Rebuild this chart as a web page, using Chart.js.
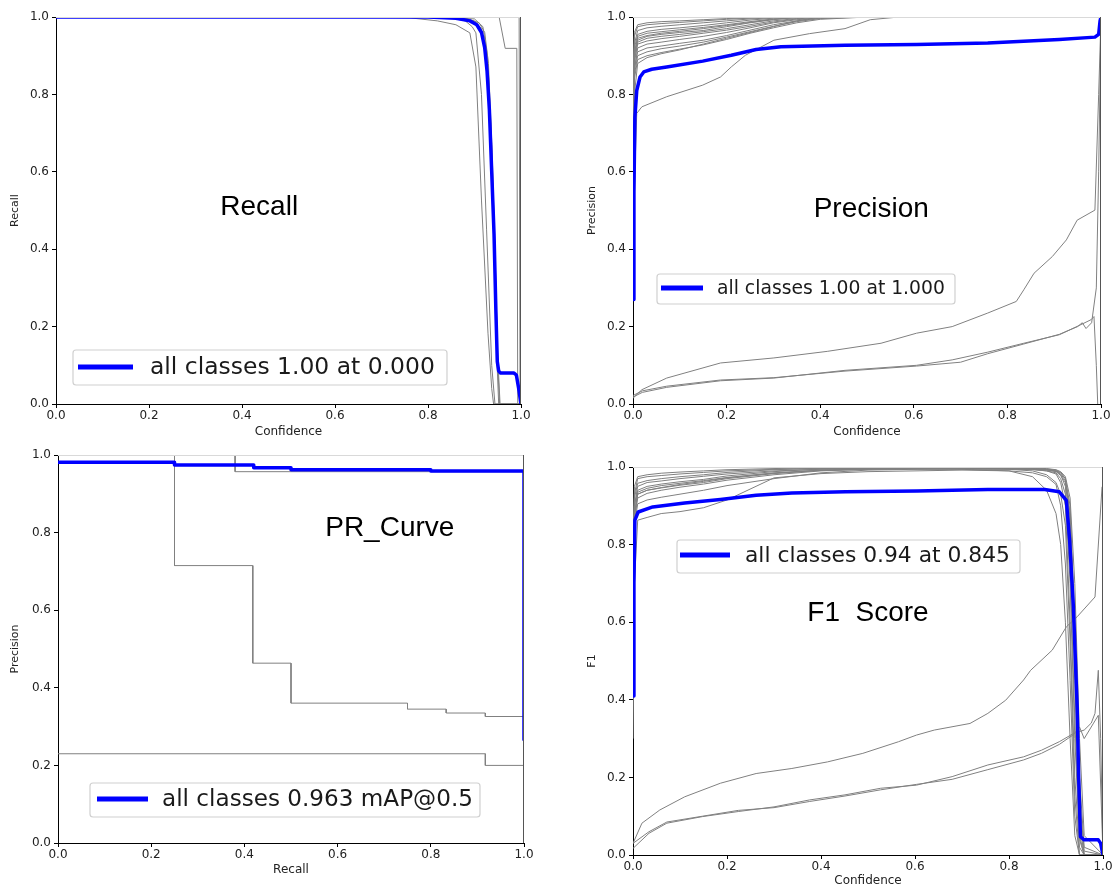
<!DOCTYPE html>
<html><head><meta charset="utf-8">
<script src="https://cdn.jsdelivr.net/npm/chart.js@4.4.1/dist/chart.umd.min.js"></script>
<style>
html,body{margin:0;padding:0;background:#fff;}
body{width:1120px;height:890px;position:relative;overflow:hidden;}
canvas{position:absolute;}
</style></head><body>
<canvas id="cRecall"></canvas>
<canvas id="cPrec"></canvas>
<canvas id="cPR"></canvas>
<canvas id="cF1"></canvas>
<script>
// ---------- tick labels ----------
const tickValues = [0, 0.2, 0.4, 0.6, 0.8, 1.0];

// ---------- Recall vs confidence ----------
const recallBlueX = [0, 0.5, 0.8, 0.86, 0.89, 0.905, 0.915, 0.922, 0.927, 0.932, 0.937, 0.942, 0.946, 0.949, 0.952, 0.956, 0.985, 0.99, 0.995, 1.0];
const recallBlueY = [1, 1, 1, 0.997, 0.99, 0.98, 0.96, 0.92, 0.86, 0.76, 0.6, 0.44, 0.24, 0.11, 0.085, 0.08, 0.08, 0.075, 0.04, 0];
const recallG1X = [0, 0.6, 0.76, 0.82, 0.86, 0.89, 0.903, 0.915, 0.929, 0.937, 0.941, 1.0];
const recallG1Y = [1, 1, 0.998, 0.99, 0.98, 0.959, 0.871, 0.527, 0.183, 0.04, 0, 0];
const recallG2X = [0, 0.7, 0.85, 0.88, 0.895, 0.903, 0.915, 0.926, 0.937, 0.944, 1.0];
const recallG2Y = [1, 1, 0.998, 0.99, 0.975, 0.959, 0.8, 0.45, 0.1, 0, 0];
const recallG3X = [0, 0.75, 0.86, 0.9, 0.915, 0.925, 0.935, 0.942, 0.948, 0.952, 1.0];
const recallG3Y = [1, 1, 0.998, 0.99, 0.97, 0.9, 0.7, 0.4, 0.12, 0, 0];
const recallG4X = [0, 0.78, 0.88, 0.91, 0.922, 0.93, 0.938, 0.945, 0.95, 0.954, 1.0];
const recallG4Y = [1, 1, 0.997, 0.985, 0.96, 0.88, 0.65, 0.35, 0.1, 0, 0];
const recallG5X = [0, 0.8, 0.9, 0.918, 0.928, 0.936, 0.944, 0.95, 0.955, 1.0];
const recallG5Y = [1, 1, 0.995, 0.975, 0.9, 0.7, 0.4, 0.12, 0, 0];
const recallG6X = [0, 0.953, 0.966, 0.991, 0.993, 1.0];
const recallG6Y = [1, 1, 0.919, 0.919, 0, 0];
const recallG7X = [0, 0.996, 0.998, 1.0];
const recallG7Y = [1, 1, 0, 0];

// ---------- Precision vs confidence ----------
const precBlueX = [0, 0.002, 0.004, 0.008, 0.015, 0.023, 0.04, 0.072, 0.149, 0.21, 0.263, 0.316, 0.453, 0.606, 0.758, 0.911, 0.987, 0.995, 0.998, 1.0];
const precBlueY = [0.27, 0.55, 0.74, 0.81, 0.845, 0.858, 0.865, 0.871, 0.886, 0.901, 0.916, 0.923, 0.927, 0.929, 0.933, 0.942, 0.948, 0.955, 0.99, 1.0];
const precClusterX = [0, 0.003, 0.01, 0.03, 0.06, 0.1, 0.15, 0.2, 0.25, 0.3, 0.35, 0.4, 0.5, 0.6, 0.8, 0.95, 1.0];
const precC1 = [0.6, 0.93, 0.965, 0.972, 0.976, 0.98, 0.985, 0.99, 0.995, 0.998, 1, 1, 1, 1, 1, 1, 1];
const precC2 = [0.5, 0.9, 0.95, 0.958, 0.962, 0.967, 0.973, 0.98, 0.988, 0.995, 0.998, 1, 1, 1, 1, 1, 1];
const precC3 = [0.7, 0.88, 0.935, 0.945, 0.95, 0.955, 0.962, 0.97, 0.98, 0.99, 0.996, 1, 1, 1, 1, 1, 1];
const precC4 = [0.45, 0.86, 0.92, 0.93, 0.935, 0.942, 0.95, 0.96, 0.972, 0.985, 0.993, 0.998, 1, 1, 1, 1, 1];
const precC5 = [0.65, 0.9, 0.94, 0.95, 0.955, 0.96, 0.965, 0.975, 0.985, 0.993, 1, 1, 1, 1, 1, 1, 1];
const precC6 = [0.55, 0.87, 0.91, 0.92, 0.925, 0.932, 0.94, 0.952, 0.966, 0.98, 0.99, 0.997, 1, 1, 1, 1, 1];
const precC7 = [0.8, 0.95, 0.975, 0.98, 0.983, 0.986, 0.99, 0.994, 0.997, 1, 1, 1, 1, 1, 1, 1, 1];
const precC8 = [0.4, 0.85, 0.9, 0.91, 0.918, 0.925, 0.935, 0.948, 0.962, 0.976, 0.988, 0.996, 1, 1, 1, 1, 1];
const precC9 = [0.6, 0.89, 0.93, 0.938, 0.944, 0.95, 0.958, 0.966, 0.976, 0.987, 0.995, 1, 1, 1, 1, 1, 1];
const precC10 = [0.75, 0.92, 0.955, 0.963, 0.968, 0.972, 0.978, 0.985, 0.992, 0.997, 1, 1, 1, 1, 1, 1, 1];
const precC11 = [0.5, 0.84, 0.89, 0.9, 0.908, 0.917, 0.928, 0.942, 0.958, 0.972, 0.985, 0.994, 1, 1, 1, 1, 1];
const precC12 = [0.7, 0.91, 0.945, 0.952, 0.958, 0.963, 0.97, 0.978, 0.986, 0.994, 0.998, 1, 1, 1, 1, 1, 1];
const precC13 = [0.35, 0.8, 0.88, 0.895, 0.905, 0.915, 0.93, 0.945, 0.96, 0.975, 0.99, 1, 1, 1, 1, 1, 1];
const precC14 = [0.85, 0.96, 0.98, 0.985, 0.988, 0.99, 0.993, 0.996, 0.998, 1, 1, 1, 1, 1, 1, 1, 1];
const precP4X = [0, 0.004, 0.008, 0.019, 0.072, 0.149, 0.187, 0.21, 0.24, 0.301, 0.377, 0.453, 0.507, 0.568, 1.0];
const precP4Y = [0.3, 0.6, 0.751, 0.768, 0.794, 0.824, 0.845, 0.871, 0.901, 0.94, 0.957, 0.97, 0.993, 1, 1];
const precB1X = [0, 0.019, 0.072, 0.187, 0.301, 0.415, 0.53, 0.606, 0.682, 0.758, 0.819, 0.835, 0.857, 0.896, 0.926, 0.949, 0.987, 0.995, 1.0];
const precB1Y = [0.015, 0.037, 0.067, 0.106, 0.119, 0.136, 0.157, 0.183, 0.2, 0.235, 0.265, 0.295, 0.338, 0.381, 0.424, 0.475, 0.501, 0.8, 1.0];
const precB2X = [0, 0.02, 0.072, 0.187, 0.301, 0.453, 0.606, 0.682, 0.758, 0.835, 0.911, 0.957, 0.979, 0.985, 0.99, 0.993];
const precB2Y = [0.018, 0.03, 0.043, 0.06, 0.067, 0.087, 0.1, 0.114, 0.134, 0.157, 0.179, 0.205, 0.218, 0.226, 0.1, 0];
const precB3X = [0, 0.02, 0.072, 0.187, 0.301, 0.453, 0.606, 0.7, 0.758, 0.835, 0.911, 0.95, 0.96, 0.968, 0.98, 0.99, 0.995, 1.0];
const precB3Y = [0.022, 0.034, 0.046, 0.062, 0.068, 0.085, 0.098, 0.108, 0.13, 0.155, 0.18, 0.2, 0.21, 0.195, 0.21, 0.3, 0.6, 1.0];

// ---------- Precision vs recall (PR curve) ----------
const prBlueX = [0, 0.25, 0.25, 0.42, 0.42, 0.5, 0.5, 0.8, 0.8, 1.0, 1.0];
const prBlueY = [0.981, 0.981, 0.974, 0.974, 0.967, 0.967, 0.962, 0.962, 0.959, 0.959, 0.266];
const prG1X = [0, 0.25, 0.25, 0.418, 0.418, 0.5, 0.5, 0.75, 0.75, 0.833, 0.833, 0.917, 0.917, 1.0, 1.0];
const prG1Y = [1, 1, 0.715, 0.715, 0.4635, 0.4635, 0.3605, 0.3605, 0.345, 0.345, 0.335, 0.335, 0.326, 0.326, 0];
const prG2X = [0, 0.38, 0.38, 1.0, 1.0];
const prG2Y = [1, 1, 0.957, 0.957, 0];
const prG3X = [0, 0.917, 0.917, 1.0, 1.0];
const prG3Y = [0.23, 0.23, 0.2, 0.2, 0];
const prG4X = [0, 1.0, 1.0];
const prG4Y = [1, 1, 0];

// ---------- F1 vs confidence ----------
const f1BlueX = [0, 0.002, 0.004, 0.011, 0.042, 0.11, 0.186, 0.262, 0.338, 0.452, 0.604, 0.755, 0.876, 0.907, 0.922, 0.929, 0.937, 0.945, 0.948, 0.952, 0.96, 0.99, 0.995, 1.0];
const f1BlueY = [0.41, 0.7, 0.863, 0.884, 0.897, 0.907, 0.916, 0.927, 0.933, 0.936, 0.938, 0.942, 0.942, 0.936, 0.914, 0.811, 0.639, 0.382, 0.21, 0.047, 0.039, 0.039, 0.03, 0];
const f1ClusterX = [0, 0.003, 0.01, 0.03, 0.06, 0.1, 0.15, 0.2, 0.3, 0.4, 0.5, 0.6, 0.7, 0.8, 0.85, 0.88, 0.9, 0.91, 0.92, 0.93, 0.94, 0.95, 0.96, 1.0];
const f1C1 = [0.6, 0.93, 0.97, 0.975, 0.978, 0.982, 0.986, 0.99, 0.994, 0.996, 0.997, 0.997, 0.997, 0.996, 0.995, 0.993, 0.99, 0.98, 0.95, 0.75, 0.35, 0.05, 0, 0];
const f1C2 = [0.5, 0.9, 0.95, 0.96, 0.964, 0.97, 0.976, 0.982, 0.99, 0.994, 0.996, 0.996, 0.996, 0.995, 0.994, 0.99, 0.985, 0.97, 0.93, 0.7, 0.3, 0.04, 0, 0];
const f1C3 = [0.7, 0.88, 0.935, 0.945, 0.952, 0.958, 0.965, 0.973, 0.985, 0.992, 0.995, 0.996, 0.996, 0.995, 0.993, 0.99, 0.982, 0.96, 0.9, 0.6, 0.2, 0.02, 0, 0];
const f1C4 = [0.45, 0.86, 0.92, 0.932, 0.94, 0.948, 0.956, 0.966, 0.98, 0.99, 0.994, 0.995, 0.995, 0.995, 0.994, 0.992, 0.988, 0.978, 0.96, 0.85, 0.5, 0.12, 0, 0];
const f1C5 = [0.65, 0.9, 0.94, 0.95, 0.956, 0.962, 0.968, 0.977, 0.988, 0.995, 0.997, 0.997, 0.997, 0.997, 0.996, 0.994, 0.99, 0.985, 0.97, 0.9, 0.6, 0.2, 0.02, 0];
const f1C6 = [0.8, 0.95, 0.975, 0.98, 0.984, 0.987, 0.99, 0.993, 0.996, 0.998, 0.998, 0.998, 0.998, 0.998, 0.997, 0.996, 0.993, 0.988, 0.975, 0.92, 0.7, 0.3, 0.05, 0];
const f1C7 = [0.4, 0.85, 0.905, 0.915, 0.922, 0.93, 0.94, 0.952, 0.97, 0.985, 0.992, 0.994, 0.995, 0.994, 0.99, 0.98, 0.96, 0.93, 0.85, 0.55, 0.15, 0, 0, 0];
const f1C8 = [0.75, 0.92, 0.958, 0.965, 0.97, 0.975, 0.98, 0.986, 0.993, 0.997, 0.998, 0.998, 0.998, 0.997, 0.996, 0.995, 0.992, 0.986, 0.97, 0.88, 0.55, 0.15, 0.01, 0];
const f1C9 = [0.55, 0.88, 0.93, 0.94, 0.946, 0.953, 0.96, 0.97, 0.983, 0.992, 0.995, 0.996, 0.996, 0.996, 0.995, 0.993, 0.989, 0.982, 0.965, 0.87, 0.45, 0.08, 0, 0];
const f1C10 = [0.5, 0.87, 0.93, 0.94, 0.947, 0.955, 0.963, 0.972, 0.984, 0.991, 0.994, 0.995, 0.994, 0.99, 0.975, 0.94, 0.88, 0.8, 0.6, 0.3, 0.05, 0, 0, 0];
const f1P4 = [0.3, 0.7, 0.863, 0.87, 0.88, 0.885, 0.895, 0.915, 0.972, 0.983, 0.988, 0.99, 0.992, 0.99, 0.985, 0.975, 0.955, 0.9, 0.75, 0.45, 0.1, 0, 0, 0];
const f1B1X = [0, 0.019, 0.057, 0.11, 0.186, 0.262, 0.338, 0.414, 0.489, 0.565, 0.603, 0.641, 0.717, 0.755, 0.793, 0.831, 0.846, 0.892, 0.922, 0.945, 0.983, 0.998, 1.0];
const f1B1Y = [0.03, 0.082, 0.116, 0.15, 0.185, 0.21, 0.223, 0.24, 0.262, 0.292, 0.309, 0.322, 0.339, 0.365, 0.399, 0.451, 0.476, 0.528, 0.588, 0.614, 0.665, 0.949, 0.95];
const f1B2X = [0, 0.034, 0.072, 0.148, 0.224, 0.3, 0.376, 0.451, 0.527, 0.603, 0.679, 0.755, 0.831, 0.869, 0.907, 0.937, 0.96, 0.975, 0.983, 0.99, 0.995, 1.0];
const f1B2Y = [0.017, 0.056, 0.082, 0.099, 0.112, 0.124, 0.142, 0.155, 0.172, 0.18, 0.202, 0.232, 0.253, 0.27, 0.292, 0.313, 0.322, 0.34, 0.365, 0.476, 0.3, 0];
const f1B3X = [0, 0.034, 0.072, 0.148, 0.224, 0.3, 0.376, 0.451, 0.527, 0.603, 0.679, 0.755, 0.831, 0.869, 0.907, 0.937, 0.95, 0.96, 0.98, 0.99, 1.0];
const f1B3Y = [0.03, 0.06, 0.085, 0.1, 0.115, 0.122, 0.138, 0.152, 0.168, 0.182, 0.195, 0.22, 0.245, 0.262, 0.285, 0.31, 0.33, 0.3, 0.34, 0.36, 0];

// ---------- labels ----------
const legendRecall = 'all classes 1.00 at 0.000';
const legendPrec = 'all classes 1.00 at 1.000';
const legendPR = 'all classes 0.963 mAP@0.5';
const legendF1 = 'all classes 0.94 at 0.845';

// ---------- rendering ----------
Chart.defaults.font.family = "'DejaVu Sans', sans-serif";
const BLUE = 'rgb(0,0,255)';
const GRAY = 'rgb(128,128,128)';
const pts = (xs, ys) => xs.map((x, i) => ({x: x, y: ys[i]}));

const decoPlugin = {
  id: 'deco',
  afterDatasetsDraw(chart, args, o) {
    const ctx = chart.ctx, a = chart.chartArea;
    ctx.save();
    ctx.lineWidth = 1;
    ctx.strokeStyle = '#d9d9d9';
    ctx.beginPath(); ctx.moveTo(a.left, a.top + 0.5); ctx.lineTo(a.right, a.top + 0.5); ctx.stroke();
    ctx.strokeStyle = '#555';
    ctx.beginPath(); ctx.moveTo(a.right - 0.5, a.top); ctx.lineTo(a.right - 0.5, a.bottom); ctx.stroke();
    const xs = chart.scales.x, ys = chart.scales.y;
    ctx.fillStyle = '#000';
    ctx.font = "28px 'Liberation Sans', Arial, sans-serif";
    ctx.textAlign = 'center'; ctx.textBaseline = 'middle';
    ctx.fillText(o.note.text, xs.getPixelForValue(o.note.x), ys.getPixelForValue(o.note.y));
    const L = o.legend, ox = o.ox, oy = o.oy;
    const bx = L.box[0] - ox, by = L.box[1] - oy, bw = L.box[2] - L.box[0], bh = L.box[3] - L.box[1], r = 3;
    ctx.beginPath();
    ctx.moveTo(bx + r, by); ctx.lineTo(bx + bw - r, by); ctx.quadraticCurveTo(bx + bw, by, bx + bw, by + r);
    ctx.lineTo(bx + bw, by + bh - r); ctx.quadraticCurveTo(bx + bw, by + bh, bx + bw - r, by + bh);
    ctx.lineTo(bx + r, by + bh); ctx.quadraticCurveTo(bx, by + bh, bx, by + bh - r);
    ctx.lineTo(bx, by + r); ctx.quadraticCurveTo(bx, by, bx + r, by); ctx.closePath();
    ctx.fillStyle = 'rgba(255,255,255,0.85)'; ctx.fill();
    ctx.strokeStyle = '#d0d0d0'; ctx.lineWidth = 1.2; ctx.stroke();
    const ds = chart.data.datasets[0];
    ctx.strokeStyle = ds.borderColor; ctx.lineWidth = 5; ctx.lineCap = 'butt';
    ctx.beginPath(); ctx.moveTo(L.line[0] - ox, L.line[2] - oy); ctx.lineTo(L.line[1] - ox, L.line[2] - oy); ctx.stroke();
    ctx.font = "20px 'DejaVu Sans', sans-serif";
    const w20 = ctx.measureText(ds.label).width;
    const fs = 20 * (L.text[1] - L.text[0]) / w20;
    ctx.font = fs.toFixed(2) + "px 'DejaVu Sans', sans-serif";
    ctx.fillStyle = '#1a1a1a'; ctx.textAlign = 'left'; ctx.textBaseline = 'middle';
    ctx.fillText(ds.label, L.text[0] - ox, L.line[2] - oy + 1);
    ctx.restore();
  }
};

function makeChart(id, c) {
  const [PL, PR, PT, PB] = c.plot;
  const left = c.yTitleX - 7, top = PT - 12, right = PR + 14, bottom = c.xTitleY + 7;
  const cv = document.getElementById(id);
  cv.width = right - left; cv.height = bottom - top;
  cv.style.left = left + 'px'; cv.style.top = top + 'px';
  cv.style.width = (right - left) + 'px'; cv.style.height = (bottom - top) + 'px';
  const datasets = [{label: c.blue.label, data: pts(c.blue.x, c.blue.y), borderColor: BLUE, borderWidth: 3.5}];
  c.grays.forEach(g => datasets.push({label: 'class', data: pts(g[0], g[1]), borderColor: GRAY, borderWidth: 1}));
  datasets.forEach(d => { d.pointRadius = 0; d.tension = 0; d.fill = false; d.borderJoinStyle = 'round'; });
  const axisCommon = {
    type: 'linear', min: 0, max: 1,
    border: {display: true, color: '#000', width: 1},
    grid: {display: true, drawOnChartArea: false, drawTicks: true, tickLength: 4, color: '#000'},
  };
  new Chart(cv, {
    type: 'line',
    data: {datasets},
    options: {
      responsive: false, animation: false, devicePixelRatio: 1,
      layout: {padding: {left: 0, top: 12, right: 14, bottom: 0}},
      plugins: {legend: {display: false}, tooltip: {enabled: false},
        deco: {note: c.note, legend: c.legend, ox: left, oy: top}},
      scales: {
        x: Object.assign({}, axisCommon, {
          position: 'bottom',
          afterBuildTicks: s => { s.ticks = tickValues.map(v => ({value: v})); },
          ticks: {autoSkip: false, maxRotation: 0, padding: 1, color: '#222', font: {size: 12},
            callback: v => Number(v).toFixed(1)},
          title: {display: true, text: c.xTitle, color: '#222', font: {size: 12}, padding: {top: 0, bottom: 0}},
          afterFit: s => { s.height = bottom - PB; }
        }),
        y: Object.assign({}, axisCommon, {
          position: 'left',
          afterBuildTicks: s => { s.ticks = tickValues.map(v => ({value: v})); },
          ticks: {autoSkip: false, padding: 3, color: '#222', font: {size: 12},
            callback: v => Number(v).toFixed(1)},
          title: {display: true, text: c.yTitle, color: '#222', font: {size: 11}, padding: {top: 0, bottom: 0}},
          afterFit: s => { s.width = PL - left; }
        })
      }
    },
    plugins: [decoPlugin]
  });
}

makeChart('cRecall', {
  plot: [56, 521, 17, 404], yTitleX: 16, xTitleY: 432, xTitle: 'Confidence', yTitle: 'Recall',
  blue: {label: legendRecall, x: recallBlueX, y: recallBlueY},
  grays: [[recallG1X, recallG1Y], [recallG2X, recallG2Y], [recallG3X, recallG3Y], [recallG4X, recallG4Y],
          [recallG5X, recallG5Y], [recallG6X, recallG6Y], [recallG7X, recallG7Y]],
  note: {text: 'Recall', x: 0.437, y: 0.509},
  legend: {box: [73, 350, 447, 385], line: [78, 133, 367], text: [150, 435]}
});

makeChart('cPrec', {
  plot: [633, 1101, 17, 404], yTitleX: 593, xTitleY: 432, xTitle: 'Confidence', yTitle: 'Precision',
  blue: {label: legendPrec, x: precBlueX, y: precBlueY},
  grays: [precC1, precC2, precC3, precC4, precC5, precC6, precC7, precC8, precC9, precC10, precC11, precC12, precC13, precC14]
    .map(ys => [precClusterX, ys])
    .concat([[precP4X, precP4Y], [precB1X, precB1Y], [precB2X, precB2Y], [precB3X, precB3Y]]),
  note: {text: 'Precision', x: 0.509, y: 0.504},
  legend: {box: [657, 274, 955, 304], line: [661, 703, 288], text: [717, 945]}
});

makeChart('cPR', {
  plot: [58, 524, 455, 843], yTitleX: 16, xTitleY: 870, xTitle: 'Recall', yTitle: 'Precision',
  blue: {label: legendPR, x: prBlueX, y: prBlueY},
  grays: [[prG1X, prG1Y], [prG2X, prG2Y], [prG3X, prG3Y], [prG4X, prG4Y]],
  note: {text: 'PR_Curve', x: 0.712, y: 0.812},
  legend: {box: [90, 783, 480, 817], line: [97, 148, 799], text: [162, 473]}
});

makeChart('cF1', {
  plot: [633, 1103, 467, 855], yTitleX: 593, xTitleY: 881, xTitle: 'Confidence', yTitle: 'F1',
  blue: {label: legendF1, x: f1BlueX, y: f1BlueY},
  grays: [f1C1, f1C2, f1C3, f1C4, f1C5, f1C6, f1C7, f1C8, f1C9, f1C10, f1P4]
    .map(ys => [f1ClusterX, ys])
    .concat([[f1B1X, f1B1Y], [f1B2X, f1B2Y], [f1B3X, f1B3Y]]),
  note: {text: 'F1  Score', x: 0.5, y: 0.624},
  legend: {box: [677, 540, 1020, 573], line: [680, 730, 555], text: [745, 1010]}
});
</script>
</body></html>
